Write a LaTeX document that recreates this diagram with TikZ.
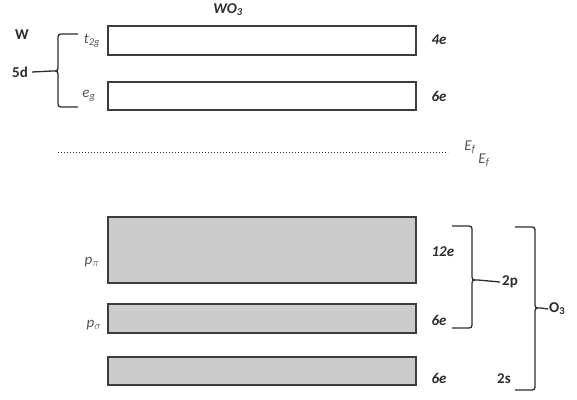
\documentclass[tikz,border=0pt]{standalone}
\usepackage{fontspec}
\setmainfont{Carlito}
\definecolor{boxline}{RGB}{60,60,60}
\definecolor{bandfill}{RGB}{204,204,204}
\definecolor{lbl}{RGB}{85,85,85}
\definecolor{dark}{RGB}{45,45,45}
\begin{document}
\begin{tikzpicture}[x=1pt,y=-1pt,
  band/.style={draw=boxline,line width=1.5pt,minimum width=308pt,inner sep=0pt},
  filled/.style={band,fill=bandfill},
  orb/.style={text=lbl,font=\fontsize{15}{15}\selectfont\itshape,inner sep=1pt},
  elec/.style={text=dark,font=\fontsize{15}{15}\selectfont\bfseries\itshape,anchor=west},
  bold/.style={text=dark,font=\fontsize{15}{15}\selectfont\bfseries,inner sep=1pt},
  bracel/.style={draw=dark,line width=1.3pt}]
\useasboundingbox (0,0) rectangle (577,399);
% title
\node[bold,font=\fontsize{15}{15}\selectfont\bfseries\itshape] (title) at (228,10) {WO\textsubscript{3}};
% bands
\node[band,minimum height=29pt] (t2gbox) at (262,40.5) {};
\node[band,minimum height=28pt] (egbox) at (262,96) {};
\node[filled,minimum height=66pt] (ppibox) at (262,250) {};
\node[filled,minimum height=29pt] (psigbox) at (262,318.5) {};
\node[filled,minimum height=28pt] (sbox) at (262,371) {};
% orbital labels
\node[orb] (t2g) at (92,41) {t\textsubscript{2g}};
\node[orb] (eg) at (89,96) {e\textsubscript{g}};
\node[orb] (ppi) at (92,262) {p\textsubscript{$\pi$}};
\node[orb] (psig) at (94,325) {p\textsubscript{$\sigma$}};
% electron counts
\node[elec] (e1) at (428,40) {4e};
\node[elec] (e2) at (428,96) {6e};
\node[elec] (e3) at (428,252) {12e};
\node[elec] (e4) at (428,320) {6e};
\node[elec] (e5) at (428,378) {6e};
% W / 5d
\node[bold] (W) at (22,35) {W};
\node[bold] (d5) at (20,72) {5d};
\coordinate (tipd) at (52,71);
\draw[bracel] (78,34) -- (64,34) .. controls (58,34) .. (58,40) -- (58,65)
  .. controls (58,71) .. (tipd) .. controls (58,71) .. (58,77) -- (58,101)
  .. controls (58,107) .. (64,107) -- (78,107);
\draw[bracel] ([xshift=3pt]d5.east) -- (tipd);
% Fermi level
\coordinate (fa) at (58,152);
\coordinate (fb) at (448,152);
\draw[dark,line width=1pt,dotted] (fa) -- (fb);
\node[orb] (ef1) at (470,147) {E\textsubscript{f}};
\node[orb] (ef2) at (484,160) {E\textsubscript{f}};
% 2p brace
\coordinate (tipp) at (478,280);
\draw[bracel] (452,226) -- (466,226) .. controls (472,226) .. (472,232) -- (472,274)
  .. controls (472,280) .. (tipp) .. controls (472,280) .. (472,286) -- (472,322)
  .. controls (472,328) .. (466,328) -- (452,328);
\node[bold] (p2) at (510,282) {2p};
\draw[bracel] (tipp) -- ([xshift=-1pt]p2.west);
% O3 brace
\coordinate (tipo) at (541,308);
\draw[bracel] (515,227) -- (529,227) .. controls (535,227) .. (535,233) -- (535,302)
  .. controls (535,308) .. (tipo) .. controls (535,308) .. (535,314) -- (535,384)
  .. controls (535,390) .. (529,390) -- (515,390);
\node[bold,anchor=west] (O3) at (548,309) {O\textsubscript{3}};
\draw[bracel] (tipo) -- (O3.west);
\node[bold] (s2) at (504,379) {2s};
\end{tikzpicture}
\end{document}
